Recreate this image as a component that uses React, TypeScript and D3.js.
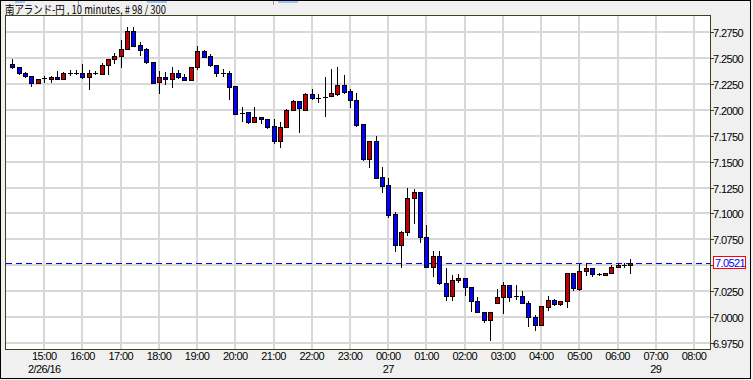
import React from "react";
import * as d3 from "d3";

const title = "南アランド-円 , 10 minutes, # 98 / 300";

const opens = [
  7.2443, 7.2411, 7.2356, 7.2324, 7.2257, 7.2295, 7.2301, 7.2315, 7.2295, 7.2358,
  7.2359, 7.2356, 7.2315, 7.2346, 7.2346, 7.2431, 7.2488, 7.2520, 7.2593, 7.2765,
  7.2624, 7.2585, 7.2465, 7.2267, 7.2315, 7.2295, 7.2353, 7.2315, 7.2286, 7.2411,
  7.2569, 7.2518, 7.2433, 7.2353, 7.2353, 7.2231, 7.1972, 7.1980, 7.1886, 7.1929,
  7.1910, 7.1845, 7.1697, 7.1832, 7.1996, 7.2083, 7.1999, 7.2154, 7.2118, 7.2128,
  7.2131, 7.2154, 7.2240, 7.2183, 7.2096, 7.1864, 7.1529, 7.1700, 7.1350, 7.1273,
  7.0993, 7.0694, 7.0819, 7.1147, 7.1205, 7.0771, 7.0481, 7.0588, 7.0328, 7.0198,
  7.0356, 7.0378, 7.0288, 7.0156, 7.0047, 6.9970, 7.0134, 7.0192, 7.0308, 7.0204,
  7.0204, 7.0134, 7.0000, 6.9918, 7.0095, 7.0159, 7.0124, 7.0149, 7.0429, 7.0272,
  7.0440, 7.0472, 7.0417, 7.0401, 7.0423, 7.0481, 7.0504, 7.0497,
];
const highs = [
  7.2488, 7.2414, 7.2369, 7.2326, 7.2301, 7.2327, 7.2330, 7.2376, 7.2369, 7.2382,
  7.2385, 7.2446, 7.2385, 7.2372, 7.2456, 7.2494, 7.2552, 7.2675, 7.2803, 7.2803,
  7.2651, 7.2595, 7.2466, 7.2376, 7.2363, 7.2411, 7.2385, 7.2344, 7.2415, 7.2617,
  7.2581, 7.2537, 7.2433, 7.2395, 7.2379, 7.2231, 7.2028, 7.1980, 7.2028, 7.1929,
  7.1915, 7.1910, 7.1881, 7.2004, 7.2096, 7.2083, 7.2166, 7.2199, 7.2151, 7.2321,
  7.2395, 7.2417, 7.2337, 7.2199, 7.2160, 7.1864, 7.1700, 7.1748, 7.1446, 7.1340,
  7.1012, 7.0832, 7.1250, 7.1237, 7.1205, 7.0887, 7.0639, 7.0636, 7.0472, 7.0407,
  7.0417, 7.0378, 7.0288, 7.0188, 7.0047, 7.0047, 7.0272, 7.0337, 7.0308, 7.0311,
  7.0246, 7.0156, 7.0021, 7.0108, 7.0204, 7.0175, 7.0156, 7.0429, 7.0429, 7.0513,
  7.0520, 7.0472, 7.0429, 7.0423, 7.0497, 7.0510, 7.0520, 7.0559,
];
const lows = [
  7.2408, 7.2344, 7.2315, 7.2234, 7.2257, 7.2266, 7.2272, 7.2295, 7.2295, 7.2337,
  7.2346, 7.2305, 7.2199, 7.2344, 7.2346, 7.2344, 7.2450, 7.2417, 7.2590, 7.2622,
  7.2530, 7.2456, 7.2257, 7.2160, 7.2247, 7.2224, 7.2305, 7.2286, 7.2286, 7.2395,
  7.2514, 7.2424, 7.2330, 7.2330, 7.2103, 7.1964, 7.1893, 7.1877, 7.1886, 7.1871,
  7.1823, 7.1678, 7.1645, 7.1832, 7.1996, 7.1790, 7.1999, 7.2102, 7.2074, 7.1944,
  7.2131, 7.2144, 7.2160, 7.2031, 7.1848, 7.1517, 7.1446, 7.1346, 7.1211, 7.0970,
  7.0632, 7.0487, 7.0787, 7.0912, 7.0728, 7.0481, 7.0391, 7.0314, 7.0159, 7.0159,
  7.0342, 7.0207, 7.0060, 7.0047, 6.9951, 6.9780, 7.0134, 7.0037, 7.0149, 7.0172,
  7.0134, 6.9908, 6.9870, 6.9918, 7.0069, 7.0111, 7.0111, 7.0095, 7.0262, 7.0262,
  7.0407, 7.0391, 7.0404, 7.0401, 7.0423, 7.0481, 7.0481, 7.0429,
];
const closes = [
  7.2411, 7.2353, 7.2324, 7.2257, 7.2295, 7.2305, 7.2315, 7.2295, 7.2353, 7.2360,
  7.2360, 7.2315, 7.2356, 7.2356, 7.2431, 7.2488, 7.2520, 7.2588, 7.2765, 7.2622,
  7.2583, 7.2465, 7.2263, 7.2315, 7.2295, 7.2353, 7.2315, 7.2286, 7.2411, 7.2569,
  7.2514, 7.2433, 7.2353, 7.2352, 7.2224, 7.1964, 7.1970, 7.1886, 7.1929, 7.1910,
  7.1838, 7.1697, 7.1832, 7.1999, 7.2083, 7.2016, 7.2154, 7.2112, 7.2117, 7.2128,
  7.2160, 7.2240, 7.2176, 7.2096, 7.1855, 7.1526, 7.1700, 7.1346, 7.1269, 7.0986,
  7.0694, 7.0819, 7.1147, 7.1205, 7.0771, 7.0481, 7.0588, 7.0327, 7.0198, 7.0356,
  7.0378, 7.0288, 7.0149, 7.0047, 6.9970, 7.0047, 7.0192, 7.0308, 7.0192, 7.0190,
  7.0134, 7.0000, 6.9918, 7.0101, 7.0159, 7.0124, 7.0156, 7.0429, 7.0279, 7.0443,
  7.0472, 7.0414, 7.0404, 7.0423, 7.0487, 7.0504, 7.0504, 7.0521,
];

const hourLabels = [
  "15:00", "16:00", "17:00", "18:00", "19:00", "20:00", "21:00", "22:00", "23:00",
  "00:00", "01:00", "02:00", "03:00", "04:00", "05:00", "06:00", "07:00", "08:00",
];
const dateLabels = [
  "2/26/16", "", "", "", "", "", "", "", "", "27", "", "", "", "", "", "", "29", "",
];
const priceTicks = [
  7.275, 7.25, 7.225, 7.2, 7.175, 7.15, 7.125, 7.1, 7.075, 7.05, 7.025, 7.0, 6.975,
];
const lastPrice = 7.0521;

// slot geometry of the time axis (10-minute slots; slot 0 = first candle)
const firstHourSlot = 5;
const slotsPerHour = 6;
const slotDomain: [number, number] = [-1, 109.5];
const priceDomain: [number, number] = [6.969, 7.2907];

const RED = "#c00000";
const BLUE = "#0000ff";
const AXIS_FONT = "'Liberation Sans', Arial, sans-serif";

export default function App() {
  const W = 753;
  const H = 380;
  const pl = 6, pr = 710, pt = 16, pb = 349;
  const x = d3.scaleLinear().domain(slotDomain).range([pl, pr]);
  const y = d3.scaleLinear().domain(priceDomain).range([pb, pt]);

  const hourSlots = hourLabels.map((_, k) => firstHourSlot + k * slotsPerHour);
  const yLastPx = y(lastPrice);

  const candles = opens.map((o, i) => {
    const c = closes[i];
    const h = highs[i];
    const l = lows[i];
    const cx = Math.round(x(i));
    const top = Math.round(y(Math.max(o, c)));
    const bot = Math.round(y(Math.min(o, c)));
    const yh = Math.round(y(h));
    const yl = Math.round(y(l));
    const color = c > o ? RED : c < o ? BLUE : "#000";
    return (
      <g key={i}>
        <line x1={cx + 0.5} x2={cx + 0.5} y1={yh} y2={yl + 1} stroke="#000" strokeWidth={1} />
        {bot - top < 2 ? (
          <line x1={cx - 2} x2={cx + 3} y1={top + 0.5} y2={top + 0.5} stroke="#000" strokeWidth={1} />
        ) : (
          <rect x={cx - 1.5} y={top + 0.5} width={4} height={bot - top} fill={color} stroke="#000" strokeWidth={1} />
        )}
      </g>
    );
  });

  const yLast = Math.round(yLastPx) + 0.5;

  return (
    <svg
      width={W}
      height={H}
      style={{ position: "absolute", left: 0, top: 0, display: "block" }}
      shapeRendering="crispEdges"
    >
      <rect x={0} y={0} width={W} height={H} fill="#f0f0f0" />
      <rect x={0.5} y={0.5} width={750} height={378} fill="none" stroke="#000" />
      {/* top tabs */}
      <rect x={15} y={1} width={10} height={2} fill="#9cc4ec" />
      <rect x={147} y={1} width={20} height={2} fill="#9cc4ec" />
      <rect x={278} y={1} width={20} height={2} fill="#9cc4ec" />
      <line x1={78.5} x2={78.5} y1={1} y2={5} stroke="#999" />
      <line x1={273.5} x2={273.5} y1={1} y2={5} stroke="#999" />
      <text
        x={5}
        y={14}
        fontFamily="'Noto Sans CJK JP', sans-serif"
        fontSize={11.5}
        fill="#000"
        textLength={161}
        lengthAdjust="spacingAndGlyphs"
      >
        {title}
      </text>

      <rect x={pl} y={pt} width={pr - pl} height={pb - pt} fill="#fff" />
      <g stroke="#d8d8d8" strokeWidth={2}>
        {hourSlots.map((s, k) => (
          <line key={k} x1={Math.round(x(s))} x2={Math.round(x(s))} y1={pt} y2={pb} />
        ))}
        {priceTicks.map((p, k) => (
          <line key={k} x1={pl} x2={pr} y1={Math.round(y(p))} y2={Math.round(y(p))} />
        ))}
      </g>

      <line x1={pl} x2={pr} y1={yLast} y2={yLast} stroke={BLUE} strokeWidth={1} strokeDasharray="6,4" />

      {candles}

      <rect x={pl - 0.5} y={pt - 0.5} width={pr - pl + 1} height={pb - pt + 1} fill="none" stroke="#404018" strokeWidth={1} />

      {/* right price axis */}
      {priceTicks.map((p, k) => {
        const yy = Math.round(y(p)) + 0.5;
        const hidden = Math.abs(y(p) - yLastPx) < 12; // covered by the last-price box
        return (
          <g key={k}>
            <line x1={pr} x2={pr + 4} y1={yy} y2={yy} stroke="#404018" />
            {!hidden && (
              <text x={pr + 3} y={yy + 4} fontFamily={AXIS_FONT} fontSize={11} letterSpacing={-0.6} fill="#000">
                {p.toFixed(4)}
              </text>
            )}
          </g>
        );
      })}
      <rect x={713.5} y={Math.round(yLastPx) - 6.5} width={32} height={12} fill="#fff" stroke="#ff0000" />
      <text x={715} y={yLastPx + 4} fontFamily={AXIS_FONT} fontSize={11} letterSpacing={-0.6} fill={BLUE}>
        {lastPrice.toFixed(4)}
      </text>

      {/* time axis */}
      {hourSlots.map((s, k) => (
        <g key={k}>
          <text x={x(s)} y={360} textAnchor="middle" fontFamily={AXIS_FONT} fontSize={11} letterSpacing={-0.6} fill="#000">
            {hourLabels[k]}
          </text>
          {dateLabels[k] && (
            <text x={x(s)} y={373} textAnchor="middle" fontFamily={AXIS_FONT} fontSize={11} letterSpacing={-0.6} fill="#000">
              {dateLabels[k]}
            </text>
          )}
        </g>
      ))}
    </svg>
  );
}
